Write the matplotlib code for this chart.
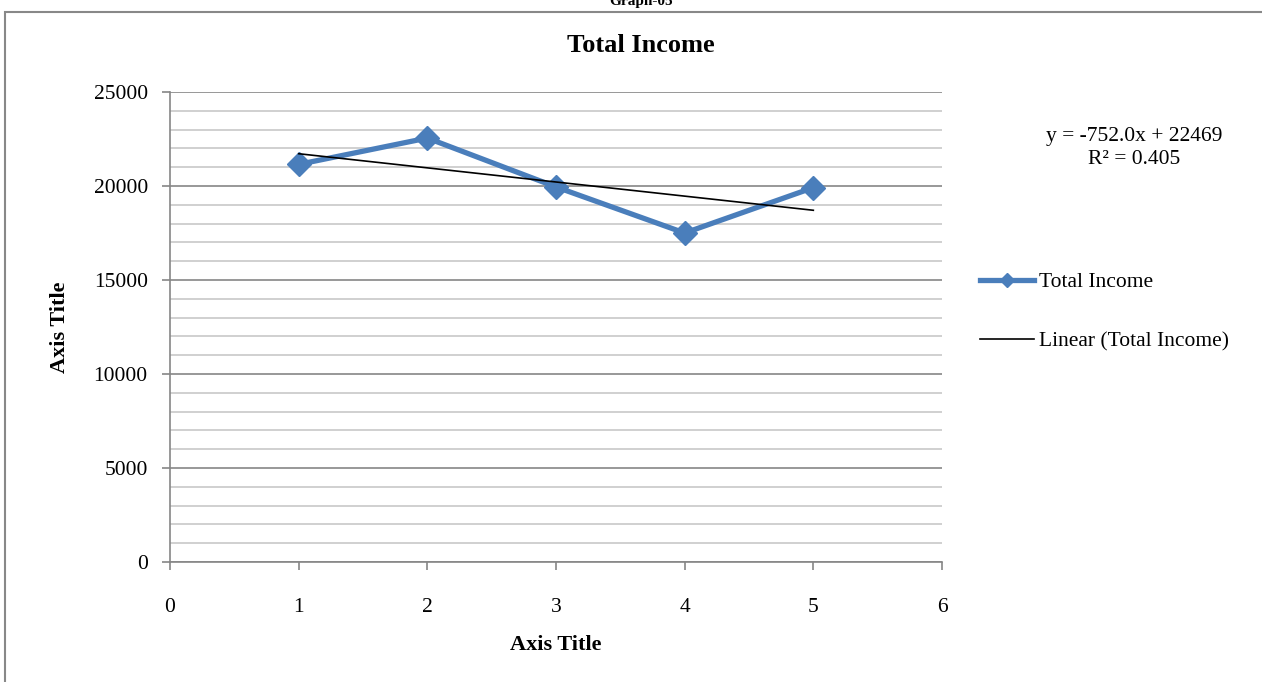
import numpy as np
import matplotlib
matplotlib.use('Agg')
import matplotlib.pyplot as plt
from matplotlib.ticker import MultipleLocator
from matplotlib.patches import Rectangle

plt.rcParams['font.family'] = ['Liberation Serif', 'DejaVu Serif']

x = [1, 2, 3, 4, 5]
income = [21150, 22550, 19950, 17500, 19915]
slope_txt = -752.0
intercept_txt = 22469
r2_txt = 0.405

W, H = 1262, 682
fig = plt.figure(figsize=(W / 100, H / 100), dpi=100)

# outer chart frame (bottom/right cut off like the screenshot)
fig.patches.append(Rectangle((5 / W, -0.1), 1.2, 1 - 12 / H + 0.1,
                             transform=fig.transFigure, fill=False,
                             edgecolor='#888888', linewidth=1.5))
fig.text(641 / W, 1 - 1 / H, 'Graph-05', ha='center', va='center',
         fontsize=11, fontweight='bold')

ax = fig.add_axes([170 / W, 1 - 562 / H, 772 / W, 470 / H])

ax.plot(x, income, color='#4a7ebb', linewidth=3.8, marker='D',
        markersize=12, label='Total Income', zorder=4)
xf = np.array([x[0], x[-1]], dtype=float)
k, b = np.polyfit(x, income, 1)
ax.plot(xf, k * xf + b, color='black', linewidth=1.2,
        label='Linear (Total Income)', zorder=5)

ax.set_xlim(0, 6)
ax.set_ylim(0, 25000)
ax.xaxis.set_major_locator(MultipleLocator(1))
ax.yaxis.set_major_locator(MultipleLocator(5000))
ax.yaxis.set_minor_locator(MultipleLocator(1000))
ax.grid(axis='y', which='major', color='#868686', linewidth=1.2)
ax.grid(axis='y', which='minor', color='#c8c8c8', linewidth=1.2)
ax.set_axisbelow(True)
for s in ['top', 'right']:
    ax.spines[s].set_visible(False)
for s in ['left', 'bottom']:
    ax.spines[s].set_color('#868686')
    ax.spines[s].set_linewidth(1.2)
ax.tick_params(axis='both', which='major', direction='out', length=6,
               color='#868686', width=1.2, labelsize=15.5)
ax.tick_params(axis='y', which='minor', length=0)
ax.tick_params(axis='x', pad=20)
ax.tick_params(axis='y', pad=10)

ax.set_xlabel('Axis Title', fontsize=16, fontweight='bold')
ax.set_ylabel('Axis Title', fontsize=16, fontweight='bold')
ax.yaxis.set_label_coords(-100 / 772, 0.5)
ax.xaxis.set_label_coords(0.5, -73 / 470)

fig.text(641 / W, 1 - 46 / H, 'Total Income', ha='center', va='center',
         fontsize=19, fontweight='bold')

fig.text(1134 / W, 1 - 137 / H, 'y = %.1fx + %d' % (slope_txt, intercept_txt),
         ha='center', va='center', fontsize=15.5)
fig.text(1134 / W, 1 - 160 / H, 'R\u00b2 = %.3f' % r2_txt,
         ha='center', va='center', fontsize=15.5)

fig.legend(loc='upper left', bbox_to_anchor=(980 / W, 1 - 272 / H),
           frameon=False, fontsize=15.5, handlelength=2.5,
           labelspacing=1.83, handletextpad=0.25, markerscale=0.6,
           borderaxespad=0, borderpad=0)

plt.savefig('out.png', dpi=100)
